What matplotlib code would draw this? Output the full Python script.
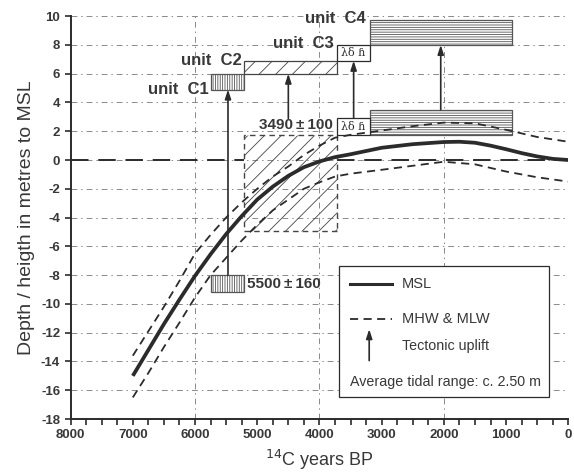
import matplotlib
matplotlib.use("Agg")
import matplotlib.pyplot as plt
from matplotlib.patches import Rectangle

# ---------------- data ----------------
years_msl = [7000, 6750, 6500, 6250, 6000, 5750, 5500, 5250, 5000, 4750, 4500, 4250,
             4000, 3750, 3500, 3000, 2500, 2000, 1750, 1500, 1250, 1000, 750, 500, 250, 0]
msl = [-15.0, -13.2, -11.4, -9.7, -8.05, -6.55, -5.15, -3.9, -2.75, -1.85, -1.1, -0.5,
       -0.1, 0.2, 0.4, 0.85, 1.1, 1.25, 1.27, 1.2, 1.0, 0.75, 0.48, 0.25, 0.08, 0.0]

years_tide = [7000, 6750, 6500, 6250, 6000, 5750, 5500, 5250, 5000, 4750, 4500, 4250,
              4000, 3750, 3500, 3000, 2500, 2000, 1500, 1000, 500, 0]
mhw = [-13.6, -11.9, -10.2, -8.4, -6.5, -5.2, -4.0, -2.95, -2.0, -1.15, -0.45, 0.35,
       1.0, 1.55, 1.75, 2.05, 2.35, 2.6, 2.55, 2.1, 1.6, 1.27]
mlw = [-16.5, -14.8, -13.0, -11.3, -9.55, -8.0, -6.8, -5.6, -4.5, -3.5, -2.75, -2.0,
       -1.55, -1.15, -0.95, -0.68, -0.4, -0.12, -0.3, -0.8, -1.2, -1.5]

# dated sample boxes (x from, x to, y bottom, y top)
sample_c1 = (5740, 5220, -9.15, -8.0)
sample_big = (5220, 3720, -4.9, 1.75)
# unit boxes: lower (original) and upper (uplifted) positions
c1_upper = (5740, 5220, 4.9, 6.0)
c2_upper = (5220, 3720, 6.0, 6.9)
c3_lower = (3720, 3190, 1.75, 2.9)
c3_upper = (3720, 3190, 6.9, 8.0)
c4_lower = (3190, 900, 1.75, 3.5)
c4_upper = (3190, 900, 8.0, 9.7)

# uplift arrows: x, tail y, tip y
arrow_x = [5470, 4500, 3450, 2050]
arrow_tail = [-8.0, 2.9, 2.9, 3.5]
arrow_tip = [4.9, 6.0, 6.9, 8.0]

unit_labels = ["unit  C1", "unit  C2", "unit  C3", "unit  C4"]
unit_label_x = [5780, 5250, 3770, 3260]
unit_label_y = [4.9, 6.9, 8.1, 9.85]

date_labels = ["3490\u2009\u00b1\u2009100", "5500\u2009\u00b1\u2009160"]

xticks = [8000, 7000, 6000, 5000, 4000, 3000, 2000, 1000, 0]
yticks = list(range(-18, 11, 2))

# ---------------- style ----------------
plt.rcParams['font.family'] = ['Liberation Sans', 'DejaVu Sans']
plt.rcParams['hatch.linewidth'] = 0.6
plt.rcParams['axes.unicode_minus'] = False
ink = '#2b2b2b'
txt = '#383838'
grid_c = '#8a8a8a'

fig = plt.figure(figsize=(5.74, 4.74), dpi=100)
ax = fig.add_axes([0.123, 0.116, 0.867, 0.85])
ax.set_xlim(8000, 0)
ax.set_ylim(-18, 10)

# grid
for yv in yticks[1:]:
    ax.axhline(yv, color=grid_c, lw=0.7, ls=(0, (6, 4, 1.5, 4)), zorder=0)
for xv in [6000, 4000, 2000, 0]:
    ax.axvline(xv, color=grid_c, lw=0.7, ls=(0, (6, 4, 1.5, 4)), zorder=0)

# zero line (interrupted by the dated box)
for xa, xb in [(8000, sample_big[0]), (sample_big[1], 0)]:
    ax.plot([xa, xb], [0, 0], color=ink, lw=1.4, ls=(0, (9, 5)), zorder=1)

def box(b, hatch=None, ls='-', fc='white', hc=ink, z=3, lw=0.9):
    x0, x1, y0, y1 = b
    r = Rectangle((min(x0, x1), y0), abs(x1 - x0), y1 - y0, facecolor=fc,
                  edgecolor=hc, hatch=hatch, lw=lw, ls=ls, zorder=z)
    ax.add_patch(r)
    return r

# big dated box (dashed outline, diagonal hatch)
box(sample_big, hatch='//', ls=(0, (4, 3)), fc='none', hc='#444444', z=2, lw=1.0)

# curves
ax.plot(years_tide, mhw, color=ink, lw=1.3, ls=(0, (4.5, 3)), zorder=4)
ax.plot(years_tide, mlw, color=ink, lw=1.3, ls=(0, (4.5, 3)), zorder=4)
ax.plot(years_msl, msl, color=ink, lw=2.7, solid_capstyle='butt', zorder=5)

# unit boxes
box(sample_c1, hatch='|||||||', hc='#555555')
box(c1_upper, hatch='|||||||', hc='#555555')
box(c2_upper, hatch='//', hc='#444444')
box(c4_lower, hatch='-------', hc='#555555')
box(c4_upper, hatch='-------', hc='#555555')
for b in (c3_lower, c3_upper):
    box(b)
    ax.text((b[0] + b[1]) / 2, (b[2] + b[3]) / 2, "λδ ɦ", ha='center', va='center',
            fontsize=8, family=['DejaVu Serif'], color=ink, zorder=6)

# arrows
for x, t0, t1 in zip(arrow_x, arrow_tail, arrow_tip):
    ax.annotate('', xy=(x, t1), xytext=(x, t0),
                arrowprops=dict(arrowstyle='-|>,head_length=0.55,head_width=0.18',
                                color=ink, lw=1.2, shrinkA=0, shrinkB=0), zorder=6)

# labels
for s, x, y in zip(unit_labels, unit_label_x, unit_label_y):
    ax.text(x, y, s, ha='right', va='center', fontsize=12, fontweight='bold', color=txt, zorder=7)
ax.text(3790, 2.45, date_labels[0], ha='right', va='center', fontsize=11,
        fontweight='bold', color=txt, zorder=7)
ax.text(5160, -8.6, date_labels[1], ha='left', va='center', fontsize=11,
        fontweight='bold', color=txt, zorder=7)

# legend (drawn manually)
T = ax.transAxes
ax.add_patch(Rectangle((0.540, 0.054), 0.422, 0.326, transform=T, facecolor='white',
                       edgecolor=ink, lw=0.9, zorder=8))
ax.plot([0.562, 0.645], [0.335, 0.335], transform=T, color=ink, lw=2.2, zorder=9)
ax.text(0.666, 0.335, "MSL", transform=T, va='center', fontsize=10.5, color=txt, zorder=9)
ax.plot([0.562, 0.645], [0.248, 0.248], transform=T, color=ink, lw=1.3,
        ls=(0, (4.5, 3)), zorder=9)
ax.text(0.666, 0.248, "MHW & MLW", transform=T, va='center', fontsize=10.5, color=txt, zorder=9)
ax.annotate('', xy=(0.600, 0.223), xytext=(0.600, 0.145), xycoords=T, textcoords=T,
            arrowprops=dict(arrowstyle='-|>,head_length=0.55,head_width=0.18',
                            color=ink, lw=1.2, shrinkA=0, shrinkB=0), zorder=9)
ax.text(0.666, 0.182, "Tectonic uplift", transform=T, va='center', fontsize=10.3,
        color=txt, zorder=9)
ax.text(0.562, 0.093, "Average tidal range: c. 2.50 m", transform=T, va='center',
        fontsize=10.3, color=txt, zorder=9)

# axes styling
for sp in ('top', 'right'):
    ax.spines[sp].set_visible(False)
for sp in ('left', 'bottom'):
    ax.spines[sp].set_linewidth(1.4)
    ax.spines[sp].set_color(ink)
ax.set_xticks(xticks)
ax.set_xticks(list(range(0, 8001, 250)), minor=True)
ax.set_yticks(yticks)
ax.tick_params(axis='both', which='both', direction='out', length=4, width=1.2,
               color=ink, labelsize=9.5, labelcolor=txt)
for lab in ax.get_xticklabels() + ax.get_yticklabels():
    lab.set_fontweight('bold')
ax.set_xlabel("$^{14}$C years BP", fontsize=13, color=txt, labelpad=5)
ax.set_ylabel("Depth / heigth in metres to MSL", fontsize=14, color=txt, labelpad=4)

fig.savefig("out.png", dpi=100, facecolor='white')
